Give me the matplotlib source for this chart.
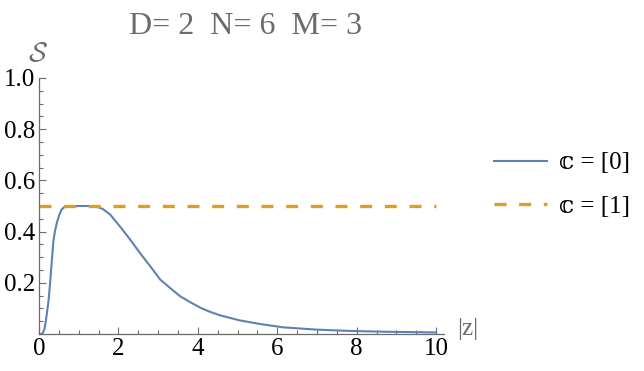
import matplotlib
matplotlib.use("Agg")
import matplotlib.pyplot as plt
from matplotlib.ticker import MultipleLocator

## Values
z_vals = [0.0, 0.08, 0.14, 0.19, 0.24, 0.28, 0.32, 0.36, 0.40, 0.45, 0.51, 0.57,
          0.63, 0.70, 1.0, 1.30, 1.45, 1.60, 1.79, 2.04, 2.29, 2.54, 2.80, 3.05,
          3.30, 3.55, 3.80, 4.06, 4.30, 4.56, 5.06, 5.57, 6.15, 7.0, 7.83, 8.67,
          10.0]
s_c0 = [0.0, 0.0, 0.02, 0.07, 0.13, 0.20, 0.28, 0.36, 0.40, 0.435, 0.465, 0.486,
        0.495, 0.498, 0.5, 0.5, 0.497, 0.489, 0.467, 0.42, 0.37, 0.317, 0.265, 0.213,
        0.18, 0.148, 0.125, 0.103, 0.087, 0.073, 0.053, 0.039, 0.026, 0.017, 0.012,
        0.009, 0.006]
z_c1 = [0.0, 10.0]
s_c1 = [0.5, 0.5]
labels = ["\U0001D554 = [0]", "\U0001D554 = [1]"]
x_ticks = [0, 2, 4, 6, 8, 10]
y_ticks = [0.2, 0.4, 0.6, 0.8, 1.0]

## Settings
plt.rcParams['font.family'] = ['Liberation Serif', 'DejaVu Serif', 'DejaVu Sans']
plt.rcParams['mathtext.fontset'] = 'cm'
blue = "#5E81B5"
orange = "#E19C24"
axis_grey = "#6b6b6b"
tick_font_size = 18

fig = plt.figure(figsize=(6.44, 3.71), dpi=100)
ax = fig.add_axes([39/644, 1-334/371, (444-39)/644, (334-78)/371])

ax.plot(z_vals, s_c0, color=blue, lw=1.5, label=labels[0])
ax.plot(z_c1, s_c1, color=orange, lw=2.4, dashes=(3.6, 3.8), label=labels[1])

ax.set_xlim(0, 10.2)
ax.set_ylim(0, 1.0)
ax.set_xticks(x_ticks)
ax.set_xticklabels([str(v) for v in x_ticks])
ax.set_yticks(y_ticks)
ax.set_yticklabels(["%.1f" % v for v in y_ticks])
ax.xaxis.set_minor_locator(MultipleLocator(0.5))
ax.yaxis.set_minor_locator(MultipleLocator(0.05))
ax.tick_params(which='both', direction='in', colors=axis_grey, labelcolor='black',
               labelsize=tick_font_size, width=0.8)
ax.tick_params(which='major', length=5, pad=3)
ax.tick_params(which='minor', length=3)
for side in ['top', 'right']:
    ax.spines[side].set_visible(False)
for side in ['left', 'bottom']:
    ax.spines[side].set_color(axis_grey)
    ax.spines[side].set_linewidth(0.9)

## Titles and axis labels
fig.text(246/644, 1-27/371, "D= 2  N= 6  M= 3", fontsize=23, color=axis_grey,
         ha='center', va='center')
fig.text(38/644, 1-54/371, r"$\mathcal{S}$", fontsize=20, color=axis_grey,
         ha='center', va='center')
fig.text(468/644, 1-329/371, "|z|", fontsize=18, color=axis_grey,
         ha='center', va='center')

ax.legend(loc='center left', bbox_to_anchor=(494/644, 1-185/371),
          bbox_transform=fig.transFigure, frameon=False, fontsize=18,
          borderpad=0, borderaxespad=0,
          handlelength=2.1, handletextpad=0.5, labelspacing=0.85)

fig.savefig("out.png", dpi=100)
